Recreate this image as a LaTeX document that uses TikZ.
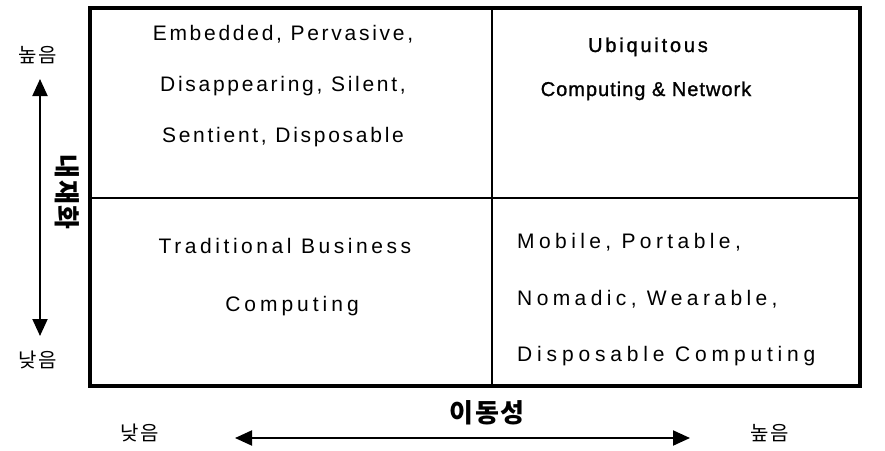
\documentclass[tikz,border=0pt]{standalone}
\usepackage{fontspec}
\setmainfont{Liberation Sans}
\newfontfamily\kr{Noto Sans CJK KR}
\usetikzlibrary{arrows.meta}
\begin{document}
\begin{tikzpicture}[x=1pt,y=-1pt,
  txt/.style={font=\fontsize{21}{25}\selectfont\addfontfeatures{LetterSpace=#1}, inner sep=0pt, anchor=base},
  txt/.default=18,
  boldtxt/.style={font=\fontsize{20}{24}\selectfont\addfontfeatures{LetterSpace=#1,FakeBold=1.2}, inner sep=0pt, anchor=base},
  boldtxt/.default=6,
  krtxt/.style={font=\kr\fontsize{20}{24}\selectfont\addfontfeatures{LetterSpace=8}, inner sep=0pt},
  krbold/.style={font=\kr\bfseries\fontsize{26}{30}\selectfont\addfontfeatures{LetterSpace=6}, inner sep=0pt},
  axis/.style={line width=2pt, {Triangle[width=15pt,length=17pt]}-{Triangle[width=15pt,length=17pt]}}
]
\useasboundingbox (0,0) rectangle (885,450);
% grid
\draw[line width=2pt] (492,8) -- (492,386);
\draw[line width=2pt] (90,198) -- (860,198);
\draw[line width=4.5pt] (90,8) rectangle (860,386);
% top-left
\node[txt=13] (tl1) at (283,40) {Embedded, Pervasive,};
\node[txt=13] (tl2) at (283,91) {Disappearing, Silent,};
\node[txt=13] (tl3) at (283,142) {Sentient, Disposable};
% top-right
\node[boldtxt=14] (tr1) at (648,52) {Ubiquitous};
\node[boldtxt=5] (tr2) at (646,96) {Computing \& Network};
% bottom-left
\node[txt=17] (bl1) at (285,253) {Traditional Business};
\node[txt=19] (bl2) at (292,311) {Computing};
% bottom-right
\node[txt=21, anchor=base west] (br1) at (517,248) {Mobile, Portable,};
\node[txt=21, anchor=base west] (br2) at (517,305) {Nomadic, Wearable,};
\node[txt=23, anchor=base west] (br3) at (517,361) {Disposable Computing};
% left axis
\node[krtxt] (lhi) at (38,55) {높음};
\node[krtxt] (llo) at (38,360) {낮음};
\node[krbold, rotate=-90] (lname) at (67,192) {내재화};
\coordinate (vtop) at (40,79);
\coordinate (vbot) at (40,336);
\draw[axis] (vtop) -- (vbot);
% bottom axis
\node[krtxt] (blo) at (140,433) {낮음};
\node[krtxt] (bhi) at (770,433) {높음};
\node[krbold] (bname) at (487,413) {이동성};
\coordinate (hl) at (235,438);
\coordinate (hr) at (690,438);
\draw[axis] (hl) -- (hr);
\end{tikzpicture}
\end{document}
